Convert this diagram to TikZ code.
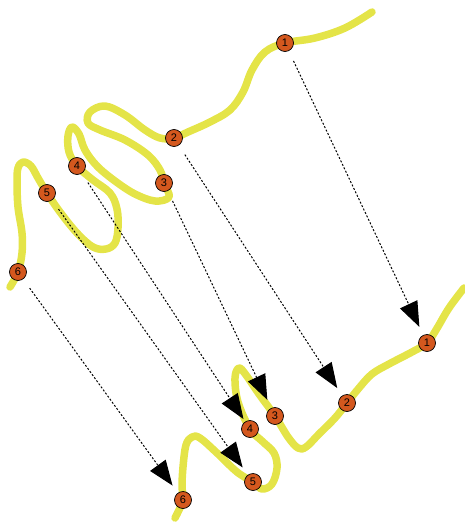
\documentclass[tikz,border=0pt]{standalone}
\usepackage{fontspec}
\setmainfont{Liberation Sans}
\usetikzlibrary{arrows.meta}
\definecolor{curvey}{RGB}{228,228,72}
\definecolor{dotc}{RGB}{212,88,30}
\tikzset{
  wire/.style={draw=curvey, line width=7.5pt, line cap=round, line join=round},
  dot/.style={circle, draw=black, line width=0.7pt, fill=dotc, minimum size=17pt, inner sep=0pt, font=\fontsize{11}{11}\selectfont},
  link/.style={dash pattern=on 2pt off 1.8pt, line width=1pt, shorten <=11pt, shorten >=9pt, -{Triangle[length=25pt,width=19pt]}}
}
\begin{document}
\begin{tikzpicture}[x=1pt,y=-1pt]
\useasboundingbox (0,0) rectangle (464,522);
% upper curve
\draw[wire] plot[smooth, tension=0.6] coordinates {
 (372,12) (345,28) (315,38) (285,43) (265,52) (252,70) (243,92) (230,110) (210,122) (188,132) (174,138)
 (160,138) (145,130) (125,115) (105,106) (90,112) (88,123) (100,130) (125,140) (148,155) (160,170) (164,183)
 (169,197) (155,201) (135,194) (115,181) (97,166) (85,150) (79,134) (72,127) (68,136) (69,152) (77,166)
 (93,180) (110,193) (117,209) (118,228) (115,243) (106,249) (93,247) (77,233) (60,212) (47,193)
 (38,178) (31,166) (23,162) (18,168) (17,182) (18,207) (22,233) (22,253) (18,272) (10,287)};
% lower curve
\draw[wire] plot[smooth, tension=0.6] coordinates {
 (464,288) (449,308) (436,330) (427,343) (412,352) (389,364) (372,374) (359,388) (347,403)
 (335,418) (319,434) (306,447) (298,448) (288,437) (275,416) (259,394) (246,375) (239,368) (235,378) (238,402) (250,429)
 (262,441) (274,453) (277,468) (272,484) (262,489) (253,482) (237,472) (217,453) (200,438) (192,437) (186,445) (183,467) (182,487) (183,500) (175,518)};
% points
\node[dot] (u1) at (285,43) {1};
\node[dot] (u2) at (174,138) {2};
\node[dot] (u3) at (164,183) {3};
\node[dot] (u4) at (77,166) {4};
\node[dot] (u5) at (47,193) {5};
\node[dot] (u6) at (18,272) {6};
\node[dot] (l1) at (427,343) {1};
\node[dot] (l2) at (347,403) {2};
\node[dot] (l3) at (275,416) {3};
\node[dot] (l4) at (250,429) {4};
\node[dot] (l5) at (253,482) {5};
\node[dot] (l6) at (183,500) {6};
% connectors
\draw[link] (u1) -- (l1);
\draw[link] (u2) -- (l2);
\draw[link] (u3) -- (l3);
\draw[link, shorten >=3pt] (u4) -- (l4);
\draw[link] (u5) -- (l5);
\draw[link] (u6) -- (l6);
\end{tikzpicture}
\end{document}
